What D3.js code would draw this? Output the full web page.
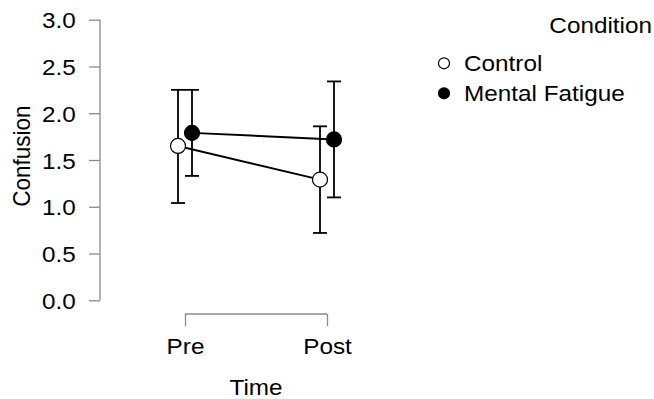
<!DOCTYPE html>
<html>
<head>
<meta charset="utf-8">
<script src="https://cdn.jsdelivr.net/npm/d3@7"></script>
<style>
  html, body { margin: 0; padding: 0; background: #fff; }
  svg { display: block; }
  text { font-family: "Liberation Sans", Arial, sans-serif; fill: #000; }
</style>
</head>
<body>
<svg id="chart" width="654" height="399"></svg>
<script>
// Descriptive plot: mean Confusion with 95% CI by Time and Condition
const times = ["Pre", "Post"];
const conditions = ["Control", "Mental Fatigue"];
const controlMean  = [1.65, 1.29];
const controlLower = [1.04, 0.72];
const controlUpper = [2.25, 1.86];
const fatigueMean  = [1.79, 1.72];
const fatigueLower = [1.33, 1.10];
const fatigueUpper = [2.25, 2.34];
const yTicks = [0.0, 0.5, 1.0, 1.5, 2.0, 2.5, 3.0];

const series = [
  { name: conditions[0], mean: controlMean, lower: controlLower, upper: controlUpper, fill: "#fff", offset: -7 },
  { name: conditions[1], mean: fatigueMean, lower: fatigueLower, upper: fatigueUpper, fill: "#000", offset: 7 }
];

const svg = d3.select("#chart");
const fontSize = 22.5;
const wide = "scale(1.08,1)";   // slightly widened glyphs

const y = d3.scaleLinear().domain([0, 3]).range([300.3, 19.7]);
const x = d3.scalePoint().domain(times).range([185, 327]);
const axisX = 100;

// y axis
const yAxis = svg.append("g")
  .attr("transform", `translate(${axisX},0)`)
  .call(d3.axisLeft(y).tickValues(yTicks).tickFormat(d3.format(".1f")).tickSize(11).tickPadding(11.5));
yAxis.select(".domain").attr("stroke", "#8a8a8a").attr("stroke-width", 1.3)
  .attr("d", `M0,${y(0)}V${y(3)}`);
yAxis.selectAll(".tick line").attr("stroke", "#8a8a8a").attr("stroke-width", 1.3);
yAxis.selectAll(".tick text").attr("font-size", fontSize)
  .attr("font-family", "Liberation Sans, Arial, sans-serif").attr("fill", "#000")
  .attr("dy", "0.36em").attr("transform", wide);

// x axis (bracket style)
const xAxis = svg.append("g")
  .attr("transform", "translate(0,314)")
  .call(d3.axisBottom(x).tickSize(12).tickPadding(12).tickSizeOuter(0));
xAxis.select(".domain").attr("stroke", "#8a8a8a").attr("stroke-width", 1.3)
  .attr("d", `M${x("Pre")},0H${x("Post")}`);
xAxis.selectAll(".tick line").attr("stroke", "#8a8a8a").attr("stroke-width", 1.3);
xAxis.selectAll(".tick text").attr("font-size", fontSize)
  .attr("font-family", "Liberation Sans, Arial, sans-serif").attr("fill", "#000")
  .attr("transform", wide);

// axis titles
svg.append("text")
  .attr("transform", `translate(256,395) ${wide}`)
  .attr("text-anchor", "middle").attr("font-size", fontSize)
  .text("Time");
svg.append("text")
  .attr("transform", `translate(30,156) rotate(-90) scale(1,1.08)`)
  .attr("text-anchor", "middle").attr("font-size", fontSize)
  .text("Confusion");

// connecting lines
const line = d3.line().x(d => d[0]).y(d => d[1]);
series.forEach(s => {
  svg.append("path")
    .attr("d", line(times.map((t, i) => [x(t) + s.offset, y(s.mean[i])])))
    .attr("fill", "none").attr("stroke", "#000").attr("stroke-width", 2);
});

// error bars
series.forEach(s => {
  const g = svg.append("g").attr("stroke", "#000").attr("stroke-width", 1.8);
  times.forEach((t, i) => {
    const cx = x(t) + s.offset;
    g.append("line").attr("x1", cx).attr("x2", cx).attr("y1", y(s.lower[i])).attr("y2", y(s.upper[i]));
    g.append("line").attr("x1", cx - 7).attr("x2", cx + 7).attr("y1", y(s.lower[i])).attr("y2", y(s.lower[i]));
    g.append("line").attr("x1", cx - 7).attr("x2", cx + 7).attr("y1", y(s.upper[i])).attr("y2", y(s.upper[i]));
  });
});

// points
series.forEach(s => {
  svg.append("g").selectAll("circle")
    .data(times)
    .join("circle")
    .attr("cx", (t) => x(t) + s.offset)
    .attr("cy", (t, i) => y(s.mean[i]))
    .attr("r", 7.5)
    .attr("fill", s.fill).attr("stroke", "#000").attr("stroke-width", 1.2);
});

// legend
const legend = svg.append("g");
legend.append("text")
  .attr("transform", `translate(652,33) ${wide}`)
  .attr("text-anchor", "end").attr("font-size", fontSize)
  .text("Condition");
series.forEach((s, i) => {
  const cy = 63.3 + i * 30;
  legend.append("circle")
    .attr("cx", 444).attr("cy", cy).attr("r", 5.5)
    .attr("fill", s.fill).attr("stroke", "#000").attr("stroke-width", 1.2);
  legend.append("text")
    .attr("transform", `translate(464,${cy + 8}) ${wide}`)
    .attr("font-size", fontSize)
    .text(s.name);
});
</script>
</body>
</html>
